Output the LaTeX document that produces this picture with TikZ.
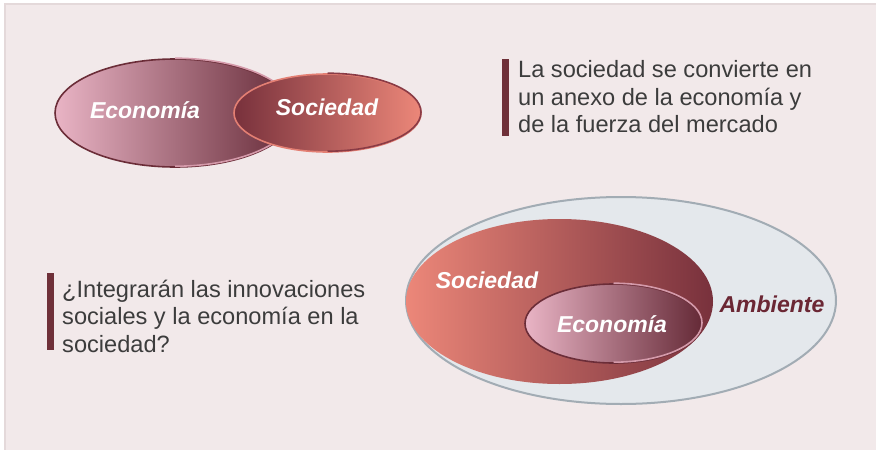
\documentclass[tikz,border=0pt]{standalone}
\usepackage{fontspec}
\setmainfont{Liberation Sans}
\usetikzlibrary{shapes.geometric}
\definecolor{bgpink}{HTML}{F2E9EA}
\definecolor{bgedge}{HTML}{E4D9DA}
\definecolor{ecolight}{HTML}{E9B4C5}
\definecolor{ecodark}{HTML}{652A37}
\definecolor{ecoedge}{HTML}{6B2D38}
\definecolor{ecorim}{HTML}{D49AAA}
\definecolor{soclight}{HTML}{EC8779}
\definecolor{socdark}{HTML}{78313C}
\definecolor{socedge}{HTML}{E37F73}
\definecolor{socrim}{HTML}{8A3B45}
\definecolor{ambfill}{HTML}{E4E8EC}
\definecolor{ambedge}{HTML}{A2ACB4}
\definecolor{ambtext}{HTML}{6B2734}
\definecolor{barred}{HTML}{6F3039}
\definecolor{notegray}{HTML}{3C3C3C}
\tikzset{
    blob/.style={ellipse, inner sep=0pt},
    rim/.style={line width=1.6pt},
    lbl/.style={text=white, font=\fontsize{23}{27}\selectfont\bfseries\itshape},
    note/.style={align=left, anchor=north west, inner sep=0pt, text=notegray, font=\fontsize{23.6}{27.7}\selectfont},
    bar/.style={draw=barred, line width=6.5pt},
}
\begin{document}
\begin{tikzpicture}[x=1pt,y=-1pt]
                        \useasboundingbox (0,0) rectangle (876,450);
                        \fill[white] (0,0) rectangle (876,450);
                        \fill[bgpink] (5,4) rectangle (876,450);
                        \draw[bgedge,line width=1.5pt] (5,450) -- (5,4) -- (876,4);
                        \node[blob,minimum width=240pt,minimum height=108pt,left color=ecolight,right color=ecodark,draw=ecoedge,rim] (ecoA) at (175,113) {};
                        \draw[ecorim,rim] (ecoA.north) arc[start angle=90,end angle=-90,x radius=120pt,y radius=54pt];
                        \node[blob,minimum width=187pt,minimum height=78pt,left color=socdark,right color=soclight,draw=socedge,rim] (socA) at (327.5,113) {};
                        \draw[socrim,rim] (socA.north) arc[start angle=90,end angle=-90,x radius=93.5pt,y radius=39pt];
                        \node[lbl] (ecoAtext) at (145,110) {Economía};
                        \node[lbl] (socAtext) at (327,107) {Sociedad};
                        \node[blob,minimum width=430pt,minimum height=207pt,fill=ambfill,draw=ambedge,line width=2pt] (amb) at (621,300.5) {};
                        \node[blob,minimum width=307pt,minimum height=165pt,left color=soclight,right color=socdark] (socB) at (559.5,301.5) {};
                        \node[blob,minimum width=177pt,minimum height=79pt,left color=ecolight,right color=ecodark,draw=ecoedge,rim] (ecoB) at (613.5,323.5) {};
                        \draw[ecorim,rim] (ecoB.north) arc[start angle=90,end angle=-90,x radius=88.5pt,y radius=39.5pt];
                        \node[lbl] (socBtext) at (487,280) {Sociedad};
                        \node[lbl] (ecoBtext) at (612,324) {Economía};
                        \node[lbl,text=ambtext] (ambtext) at (772,304) {Ambiente};
                        \node[note] (noteA) at (518,60) {La sociedad se convierte en\\un anexo de la economía y\\de la fuerza del mercado};
                        \coordinate (barAtop) at (505.5,59);
                        \coordinate (barAbot) at (505.5,136);
                        \draw[bar] (barAtop) -- (barAbot);
                        \node[note] (noteB) at (62,279.5) {¿Integrarán las innovaciones\\sociales y la economía en la\\sociedad?};
                        \coordinate (barBtop) at (50.5,273);
                        \coordinate (barBbot) at (50.5,350);
                        \draw[bar] (barBtop) -- (barBbot);
                    \end{tikzpicture}
\end{document}
